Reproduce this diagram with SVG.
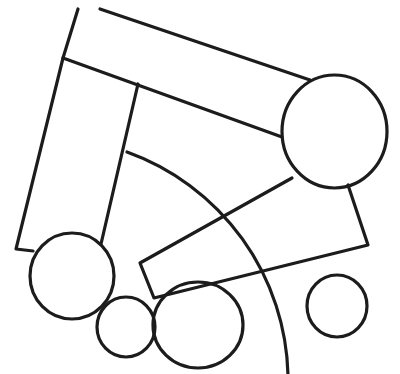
<svg xmlns="http://www.w3.org/2000/svg" width="400" height="374" viewBox="0 0 400 374">
<style>
.s{fill:none;stroke:#1c1c1c;stroke-width:3.2;stroke-linecap:round;stroke-linejoin:round}
</style>
<rect width="400" height="374" fill="#ffffff"/>
<g id="top-rect"><path class="s" d="M100,9 L310,80 M78,9 L63,58 L282,137"/></g>
<g id="tall-rect"><path class="s" d="M63,58 L16,249 L33,251 M138,84 L101,244"/></g>
<g id="mid-rect"><path class="s" d="M292,178 L140,263 L154,298 L368,245 L348,185"/></g>
<g id="big-circle"><ellipse class="s" cx="334.5" cy="131.5" rx="52.5" ry="56.5"/></g>
<g id="left-circle"><ellipse class="s" cx="72" cy="276" rx="42" ry="43"/></g>
<g id="small-circle"><ellipse class="s" cx="126" cy="327" rx="29" ry="30"/></g>
<g id="bottom-circle"><ellipse class="s" cx="198" cy="325" rx="45" ry="43"/></g>
<g id="right-circle"><ellipse class="s" cx="337" cy="306" rx="30" ry="31"/></g>
<g id="arc"><path class="s" d="M127,152 A243,243 0 0 1 288,376"/></g>
</svg>
